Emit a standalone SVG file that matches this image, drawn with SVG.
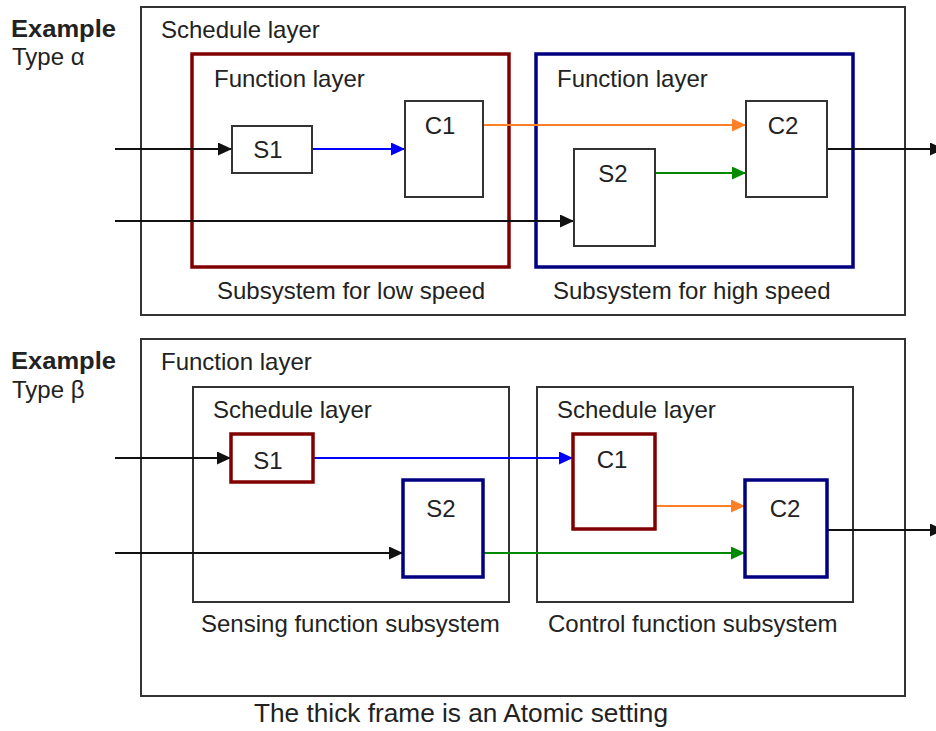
<svg xmlns="http://www.w3.org/2000/svg" width="936" height="731" viewBox="0 0 936 731">
<defs>
<style>
text{font-family:"Liberation Sans",Arial,sans-serif;font-size:24px;fill:#222}
.b{font-weight:bold}
.m{text-anchor:middle}
.cap{font-size:26px}
.frame{fill:none;stroke:#333;stroke-width:2}
.box{fill:#fff;stroke:#333;stroke-width:2}
.red{fill:none;stroke:#800000;stroke-width:3.5}
.blue{fill:none;stroke:#000080;stroke-width:3.5}
.redb{fill:#fff;stroke:#800000;stroke-width:3.5}
.blueb{fill:#fff;stroke:#000080;stroke-width:3.5}
.k{stroke:#111;stroke-width:2;fill:none;marker-end:url(#ak)}
.bl{stroke:#0000ff;stroke-width:2;fill:none;marker-end:url(#ab)}
.or{stroke:#ff7f27;stroke-width:2;fill:none;marker-end:url(#ao)}
.gr{stroke:#008a00;stroke-width:2;fill:none;marker-end:url(#ag)}
</style>
<marker id="ak" markerUnits="userSpaceOnUse" markerWidth="14" markerHeight="13" refX="14" refY="6.5" orient="auto"><path d="M0,0 L14,6.5 L0,13 z" fill="#111"/></marker>
<marker id="ab" markerUnits="userSpaceOnUse" markerWidth="14" markerHeight="13" refX="14" refY="6.5" orient="auto"><path d="M0,0 L14,6.5 L0,13 z" fill="#0000ff"/></marker>
<marker id="ao" markerUnits="userSpaceOnUse" markerWidth="14" markerHeight="13" refX="14" refY="6.5" orient="auto"><path d="M0,0 L14,6.5 L0,13 z" fill="#ff7f27"/></marker>
<marker id="ag" markerUnits="userSpaceOnUse" markerWidth="14" markerHeight="13" refX="14" refY="6.5" orient="auto"><path d="M0,0 L14,6.5 L0,13 z" fill="#008a00"/></marker>
</defs>
<rect width="936" height="731" fill="#fff"/>

<!-- Type alpha -->
<g id="alpha-label">
<text class="b" x="11" y="37" textLength="105" lengthAdjust="spacingAndGlyphs">Example</text>
<text x="12" y="65">Type α</text>
</g>
<g id="alpha-schedule">
<rect class="frame" x="141" y="7" width="764" height="308"/>
<text x="161" y="38">Schedule layer</text>
</g>
<g id="alpha-low">
<rect class="red" x="192" y="54" width="317" height="213"/>
<text x="214" y="87">Function layer</text>
<text x="217" y="299">Subsystem for low speed</text>
</g>
<g id="alpha-high">
<rect class="blue" x="536" y="54" width="317" height="213"/>
<text x="557" y="87">Function layer</text>
<text x="553" y="299">Subsystem for high speed</text>
</g>

<g id="connectors-alpha">
<line class="k" x1="115" y1="149" x2="232" y2="149"/>
<line class="k" x1="115" y1="221" x2="574" y2="221"/>
<line class="bl" x1="312" y1="149" x2="405" y2="149"/>
<line class="or" x1="483" y1="125" x2="746" y2="125"/>
<line class="gr" x1="655" y1="173" x2="746" y2="173"/>
<line class="k" x1="827" y1="149" x2="944" y2="149"/>
</g>

<g id="a-S1"><rect class="box" x="232" y="126" width="80" height="47"/><text class="m" x="268" y="158">S1</text></g>
<g id="a-C1"><rect class="box" x="405" y="101" width="78" height="96"/><text class="m" x="440" y="134">C1</text></g>
<g id="a-S2"><rect class="box" x="574" y="149" width="81" height="97"/><text class="m" x="613" y="182">S2</text></g>
<g id="a-C2"><rect class="box" x="746" y="101" width="81" height="96"/><text class="m" x="783" y="134">C2</text></g>

<!-- Type beta -->
<g id="beta-label">
<text class="b" x="11" y="369" textLength="105" lengthAdjust="spacingAndGlyphs">Example</text>
<text x="12" y="398">Type β</text>
</g>
<g id="beta-function">
<rect class="frame" x="141" y="339" width="764" height="357"/>
<text x="161" y="370">Function layer</text>
</g>
<g id="beta-sensing">
<rect class="frame" x="193" y="387" width="316" height="215"/>
<text x="213" y="418">Schedule layer</text>
<text x="201" y="632">Sensing function subsystem</text>
</g>
<g id="beta-control">
<rect class="frame" x="537" y="387" width="316" height="215"/>
<text x="557" y="418">Schedule layer</text>
<text x="548" y="632">Control function subsystem</text>
</g>

<g id="connectors-beta">
<line class="k" x1="115" y1="458" x2="231" y2="458"/>
<line class="k" x1="115" y1="553" x2="403" y2="553"/>
<line class="bl" x1="313" y1="458" x2="573" y2="458"/>
<line class="or" x1="655" y1="506" x2="745" y2="506"/>
<line class="gr" x1="483" y1="553" x2="745" y2="553"/>
<line class="k" x1="827" y1="530" x2="944" y2="530"/>
</g>

<g id="b-S1"><rect class="redb" x="231" y="434" width="82" height="48"/><text class="m" x="268" y="469">S1</text></g>
<g id="b-C1"><rect class="redb" x="573" y="434" width="82" height="95"/><text class="m" x="612" y="468">C1</text></g>
<g id="b-S2"><rect class="blueb" x="403" y="480" width="80" height="97"/><text class="m" x="441" y="517">S2</text></g>
<g id="b-C2"><rect class="blueb" x="745" y="480" width="82" height="97"/><text class="m" x="785" y="517">C2</text></g>

<g id="caption"><text class="cap" x="254" y="722" textLength="414" lengthAdjust="spacingAndGlyphs">The thick frame is an Atomic setting</text></g>
</svg>
